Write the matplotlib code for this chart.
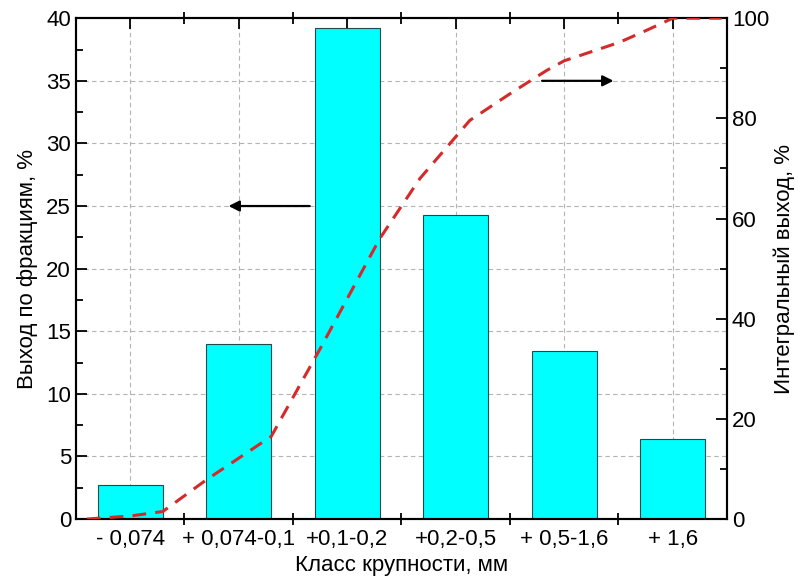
import matplotlib.pyplot as plt
from matplotlib.ticker import MultipleLocator, FixedLocator

plt.rcParams['font.family'] = ['Liberation Sans', 'DejaVu Sans']

# data
categories = ["- 0,074", "+ 0,074-0,1", "+0,1-0,2", "+0,2-0,5", "+ 0,5-1,6", "+ 1,6"]
fraction_yield = [2.7, 14.0, 39.2, 24.3, 13.4, 6.4]
# cumulative curve: positions (category units) and values, %
cum_x = [-0.4, 0.0, 0.3, 0.7, 1.3, 1.75, 2.3, 2.67, 3.13, 3.52, 3.84, 4.0, 4.51, 4.76, 5.0, 5.45]
cum_y = [0.0, 0.6, 1.5, 7.8, 16.5, 34.0, 56.0, 68.0, 79.6, 85.2, 89.6, 91.5, 95.2, 97.6, 100.0, 100.0]

barColor = "#00FFFF"
lineColor = "#D42A2A"
gridColor = "#B4B4B4"
fontSize = 16

fig = plt.figure(figsize=(7.98, 5.88), dpi=100)
ax = fig.add_axes([0.0952, 0.1173, 0.8158, 0.8517])
ax2 = ax.twinx()

xs = list(range(len(categories)))
ax.bar(xs, fraction_yield, width=0.6, color=barColor, edgecolor="#1E4A4A", linewidth=0.8, zorder=2)
ax2.plot(cum_x, cum_y, color=lineColor, linewidth=2.2, dashes=(4.5, 3), zorder=3)

ax.set_xlim(-0.5, 5.5)
ax.set_ylim(0, 40)
ax2.set_ylim(0, 100)

# grid (behind bars)
ax.set_axisbelow(True)
for y in range(5, 40, 5):
    ax.axhline(y, color=gridColor, linewidth=0.8, dashes=(4, 3), zorder=0)
for x in xs:
    ax.axvline(x, color=gridColor, linewidth=0.8, dashes=(4, 3), zorder=0)

# ticks
ax.xaxis.set_major_locator(FixedLocator(xs))
ax.xaxis.set_minor_locator(FixedLocator([i + 0.5 for i in xs[:-1]]))
ax.set_xticklabels(categories, fontsize=fontSize)
ax.tick_params(axis='x', which='major', bottom=False, top=True, direction='in', length=8, width=1.3, pad=7)
ax.tick_params(axis='x', which='minor', bottom=True, top=True, direction='inout', length=9, width=1.3)

ax.yaxis.set_major_locator(MultipleLocator(5))
ax.yaxis.set_minor_locator(MultipleLocator(2.5))
ax.tick_params(axis='y', which='major', direction='in', length=8, width=1.3, labelsize=fontSize, right=False)
ax.tick_params(axis='y', which='minor', direction='in', length=5, width=1.3, right=False)

ax2.yaxis.set_major_locator(MultipleLocator(20))
ax2.yaxis.set_minor_locator(MultipleLocator(10))
ax2.tick_params(axis='y', which='major', direction='in', length=8, width=1.3, labelsize=fontSize)
ax2.tick_params(axis='y', which='minor', direction='in', length=5, width=1.3)

for a in (ax, ax2):
    for s in a.spines.values():
        s.set_linewidth(1.5)

ax.set_xlabel("Класс крупности, мм", fontsize=fontSize, labelpad=4)
ax.set_ylabel("Выход по фракциям, %", fontsize=fontSize, labelpad=6)
ax2.set_ylabel("Интегральный выход, %", fontsize=fontSize, rotation=90, labelpad=3)

# arrows pointing to the corresponding axes
ax.annotate("", xy=(0.88, 25), xytext=(1.68, 25),
            arrowprops=dict(arrowstyle='-|>', color='black', lw=1.6, mutation_scale=16), zorder=4)
ax.annotate("", xy=(4.48, 35), xytext=(3.77, 35),
            arrowprops=dict(arrowstyle='-|>', color='black', lw=1.6, mutation_scale=16), zorder=4)

fig.savefig("out.png", dpi=100)
